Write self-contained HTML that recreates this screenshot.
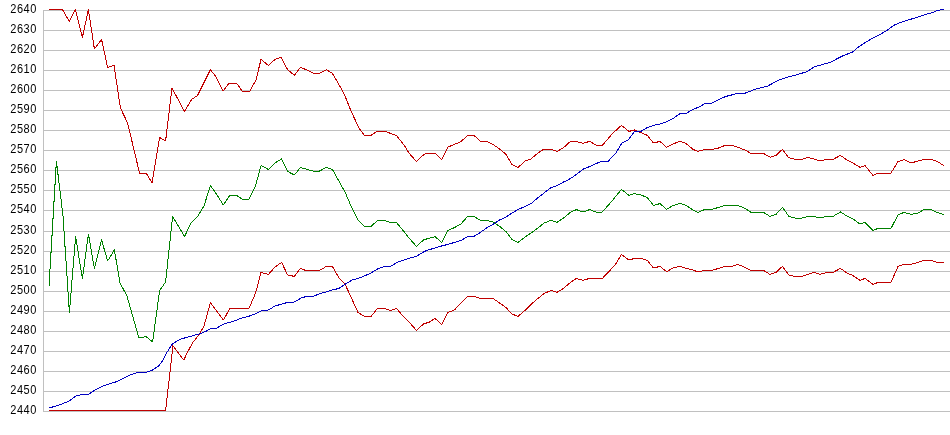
<!DOCTYPE html>
<html><head><meta charset="utf-8"><style>
html,body{margin:0;padding:0;background:#fff;width:950px;height:435px;overflow:hidden}
svg{display:block}
.lab{will-change:transform;opacity:0.999}
text{font-family:"Liberation Sans",sans-serif;font-size:12px;fill:#000;text-anchor:end}
</style></head><body>
<svg width="950" height="435" viewBox="0 0 950 435">
<g stroke="#c0c0c0" stroke-width="1" shape-rendering="crispEdges">
<line x1="43" y1="10.5" x2="950" y2="10.5"/>
<line x1="43" y1="30.5" x2="950" y2="30.5"/>
<line x1="43" y1="50.5" x2="950" y2="50.5"/>
<line x1="43" y1="70.5" x2="950" y2="70.5"/>
<line x1="43" y1="90.5" x2="950" y2="90.5"/>
<line x1="43" y1="110.5" x2="950" y2="110.5"/>
<line x1="43" y1="130.5" x2="950" y2="130.5"/>
<line x1="43" y1="150.5" x2="950" y2="150.5"/>
<line x1="43" y1="170.5" x2="950" y2="170.5"/>
<line x1="43" y1="190.5" x2="950" y2="190.5"/>
<line x1="43" y1="210.5" x2="950" y2="210.5"/>
<line x1="43" y1="231.5" x2="950" y2="231.5"/>
<line x1="43" y1="251.5" x2="950" y2="251.5"/>
<line x1="43" y1="271.5" x2="950" y2="271.5"/>
<line x1="43" y1="291.5" x2="950" y2="291.5"/>
<line x1="43" y1="311.5" x2="950" y2="311.5"/>
<line x1="43" y1="331.5" x2="950" y2="331.5"/>
<line x1="43" y1="351.5" x2="950" y2="351.5"/>
<line x1="43" y1="371.5" x2="950" y2="371.5"/>
<line x1="43" y1="391.5" x2="950" y2="391.5"/>
<line x1="43" y1="411.5" x2="950" y2="411.5"/>
<line x1="43.5" y1="10" x2="43.5" y2="412"/>
</g>
<g class="lab">
<g transform="translate(36.9,0) scale(0.92,1)"><text x="0" y="13" letter-spacing="0.55">2640</text></g>
<g transform="translate(36.9,0) scale(0.92,1)"><text x="0" y="33" letter-spacing="0.55">2630</text></g>
<g transform="translate(36.9,0) scale(0.92,1)"><text x="0" y="53" letter-spacing="0.55">2620</text></g>
<g transform="translate(36.9,0) scale(0.92,1)"><text x="0" y="73" letter-spacing="0.55">2610</text></g>
<g transform="translate(36.9,0) scale(0.92,1)"><text x="0" y="93" letter-spacing="0.55">2600</text></g>
<g transform="translate(36.9,0) scale(0.92,1)"><text x="0" y="113" letter-spacing="0.55">2590</text></g>
<g transform="translate(36.9,0) scale(0.92,1)"><text x="0" y="133" letter-spacing="0.55">2580</text></g>
<g transform="translate(36.9,0) scale(0.92,1)"><text x="0" y="153" letter-spacing="0.55">2570</text></g>
<g transform="translate(36.9,0) scale(0.92,1)"><text x="0" y="173" letter-spacing="0.55">2560</text></g>
<g transform="translate(36.9,0) scale(0.92,1)"><text x="0" y="193" letter-spacing="0.55">2550</text></g>
<g transform="translate(36.9,0) scale(0.92,1)"><text x="0" y="213" letter-spacing="0.55">2540</text></g>
<g transform="translate(36.9,0) scale(0.92,1)"><text x="0" y="234" letter-spacing="0.55">2530</text></g>
<g transform="translate(36.9,0) scale(0.92,1)"><text x="0" y="254" letter-spacing="0.55">2520</text></g>
<g transform="translate(36.9,0) scale(0.92,1)"><text x="0" y="274" letter-spacing="0.55">2510</text></g>
<g transform="translate(36.9,0) scale(0.92,1)"><text x="0" y="294" letter-spacing="0.55">2500</text></g>
<g transform="translate(36.9,0) scale(0.92,1)"><text x="0" y="314" letter-spacing="0.55">2490</text></g>
<g transform="translate(36.9,0) scale(0.92,1)"><text x="0" y="334" letter-spacing="0.55">2480</text></g>
<g transform="translate(36.9,0) scale(0.92,1)"><text x="0" y="354" letter-spacing="0.55">2470</text></g>
<g transform="translate(36.9,0) scale(0.92,1)"><text x="0" y="374" letter-spacing="0.55">2460</text></g>
<g transform="translate(36.9,0) scale(0.92,1)"><text x="0" y="394" letter-spacing="0.55">2450</text></g>
<g transform="translate(36.9,0) scale(0.92,1)"><text x="0" y="414" letter-spacing="0.55">2440</text></g>
</g>
<g fill="none" stroke-width="1" stroke-linejoin="round" stroke-linecap="round" shape-rendering="crispEdges">
<polyline stroke="#c00000" points="49,9.5 62.4,9.5 69.2,21.4 75.4,9.5 82.4,37.4 88.4,9.5 94.4,49 101.6,39.6 107.6,67.4 114,65.4 120.4,108 127.6,123 139.6,173.4 146.4,173.4 152,183 159.6,137.4 165.6,141 172,88 184.4,111.4 191.6,99.4 197.6,95.4 210.4,69.6 216.2,77.2 223,91 229,83.4 236.4,83 242.4,91.4 249.6,91.4 256,80 261,59.4 268.4,65.4 275,59.4 281,57.4 287.6,69.6 294.4,75.4 300.4,67.4 307,70 314,73.4 319.6,73.4 326.4,69.6 332.4,73.4 340,86.4 345,96 351,111 359,128 364.4,135.4 371,135.4 377.6,131 384.4,131 390.4,133.4 396.4,135.4 404,145 409,153 416.4,161.6 424,154.4 429,153 435,153 441.6,159.6 448,147 454.4,144.4 461,141.6 467.6,135.4 474,135.4 480.4,141.4 486.4,141.4 493,144.4 499.6,149 506,154.4 512,164.4 518,167.6 525,161 531,159 538,153 544,149 551,149 557,151.6 563.6,147.6 570.4,141.4 576.4,141.4 583,143.4 589.6,141.4 596,145 602.4,145.4 612,134 621.4,125.4 629,131.4 634.6,130 641,132.6 647.4,135.4 653.4,143 660,141.4 666.6,147.4 673,144 679.4,141.4 685.4,143 693,149.4 698,151.4 705,149.4 712,149.4 718.6,148 725,145.4 732,145.4 738,147.4 745,150 751,153.4 763.4,153.4 770,157.2 776,155.4 782.4,149.4 788.5,157.5 795,159.4 802,159.4 808,157.4 814,159 820,161 827,159.4 833,159.4 840.4,155.4 847,160 853,163 860,167.4 865,165.6 873,175.4 878,173 891,173 898,161.6 904,159.6 911,163 918,161 924,159.4 931,159.4 937,161.4 943.6,165.4"/>
<polyline stroke="#008000" points="49,286.6 56.4,161 63,216 69.4,312.6 75.6,236.4 82.4,278.6 88.4,234 94.4,268.6 101.6,240 107.6,261 114.4,250 120,283 127,296 139,338 146,336.6 152.6,342 159.6,290.6 165.6,282 172.6,216.4 184.6,236.4 191,223 198,216 204,206 210.4,185.4 216.4,194 223.4,205 230,195 237,195.6 242.4,199.4 249,199.4 255.6,185.6 261,165.6 268.4,169.4 275,163 281.6,159 287.6,171.4 294.4,175 300.4,167.4 307,169.4 313,171 319.6,171 326.4,167.4 332.4,169.4 340,183 345,192 351,206 358,220 364.4,226.4 371,226.4 377.6,220.4 384.4,220.4 390.4,222.4 396.4,222.4 404,231.6 409,238 416.4,246.4 424,239.6 429,238.4 435,236.6 441.6,242.4 448,230.4 454.4,227.6 461,224 467.6,216.4 474,216.4 480.4,220.4 487,220.4 493,222 499.6,226.4 506,231.6 512,239.6 518,242.4 525,237 531,233 538,228 544,223 551,220.4 557,222.4 563.6,218 570.4,212.4 576.4,209.6 583,212 589.6,209.6 596,212 602.4,212 612,201 621.4,189.4 629,195.4 634.6,193.6 641,195 647.4,197.6 653.4,205.4 660,203.6 666.6,209.4 673,205.6 679.4,203.4 685.4,205 693,210 698,212.4 705,209.4 712,209.4 718.6,207.4 725,205.4 738,205.4 745,208.4 751,212.4 763.4,212.4 770,216.4 776,214.4 782.4,207.4 789,216.4 795,218 802,218 808,216.4 814,216.4 820,218 827,216.4 833,216.4 840.4,212 847,216 853,219 860,224 865,222.4 873,230.4 878,228.4 891,228.4 898,215 904,212.4 911,214.4 918,213 924,209.6 931,209.6 937,212.4 943.6,214.4"/>
<polyline stroke="#c00000" points="49,410.5 165.6,410.5 171.4,360 172.8,345.7 183.8,360 187.6,352 192.8,342.4 199,334.8 204,326 210.4,302.6 223.4,320 230,308.4 249,308.4 255.6,293 261,272.4 268.4,274.4 275,267 281.6,262.4 287.6,275 294.4,276.4 300.4,268.4 305.6,270.4 319.6,270.4 326.4,266.4 332.4,266.4 339,278 345,284 358,312.4 364.4,316.4 371,316.4 377.6,308.4 384.4,308.4 390.4,310.4 396.4,308.4 402,315 409,322 416.4,330.4 424,323.6 429,322.4 435,318.4 441.6,324.4 448,312.4 454.4,310 461,303 467.6,296.4 474,296.4 480.4,298.4 493,298.4 499.6,303 506,307.6 512,314 518,316.4 525,310.4 531,304.4 538,298.4 544,293.6 551,290.4 557,292.4 563.6,288.4 570.4,282.4 576.4,278.4 583,280.4 589.6,278.4 602.4,278.4 610,270.4 616,263.6 621.4,254.4 629,260 634.6,258.4 641,258.4 647.4,260.4 653.4,268 660,266.4 666.6,271.6 673,268 679.4,266.4 685.4,268 693,270 698,272 705,270.4 712,270.4 718.6,268.4 725,266.4 732,266.4 738,264.4 745,267.4 751,270.4 763.4,270.4 770,274.4 776,272.4 782.4,266.4 789,275 795,276.4 802,276.4 808,274.4 814,272.4 820,274.4 827,272.4 833,272.4 840.4,268.4 847,273 853,275.6 860,280.4 865,278.4 873,284.4 878,282.4 891,282.4 898,266.4 904,264.4 911,264.4 918,262.4 924,260.4 931,260.4 937,262.4 943.6,262.4"/>
<polyline stroke="#0000c0" points="49,408 56,406 61,404.4 69,401 76,396 82,394.4 89,394 95.6,389.6 103,386 110,383.6 117,381.6 123,378.4 130,375 138,372.4 147,372 152,370.4 159,365.6 163,360 167.2,352 171.7,344.8 173.4,343.4 177,341 181,339 185.9,337.6 191.4,336.2 196.9,334.5 201.7,333.1 207.2,330.7 210,329 216,328.4 224,324 234,321 242,318 248,316.6 255,314 262,310.4 268.4,310 275,306 282,304 287.6,302.4 294.4,302 302,297.6 307,296.4 314,296 320,293.6 326.4,292 332.4,290 339,288.4 345,284.4 352,280 358,278.4 364.4,276 371,273 377.6,269 383,267 390.4,266.4 398,262 404,260 410,258 416.4,256.4 424,251.6 428,250 435,248 441.6,246 448,244.4 454.4,242.4 461,240.4 467.6,236.6 474,236.4 480.4,232.4 487,227.6 493,224.4 499.6,220 506,217 512,213 518,209.6 525,206.4 531,203.6 538,197.6 544,193 551,187.6 557,185.6 563.6,182 568,180 572,177.6 578,173 583.6,169 590,166.4 596,163.6 601,161.6 608,161.4 616,153 622,143 628,140 634.6,131.4 641,131.4 647.4,127.4 653.4,125.4 660,124 666,122 673,118.6 679.4,114 686,113.4 693,109.4 699,107 705,103.6 711,103.6 720,99 726,96.4 737,93.6 744,93.6 756,89 767,86.4 778,80.4 788,77 798,74.4 807,71.6 815,66.4 823,64.4 830,62.4 842,56.2 852.4,52.1 859,46.6 865.5,42.4 872,38.6 879.3,34.8 887.6,30 894.5,24.9 901.4,22.1 913.8,18.3 919,16.6 925.2,14.5 931.4,12.8 938.3,10.3 943.4,9.5"/>
</g>
</svg>
</body></html>
